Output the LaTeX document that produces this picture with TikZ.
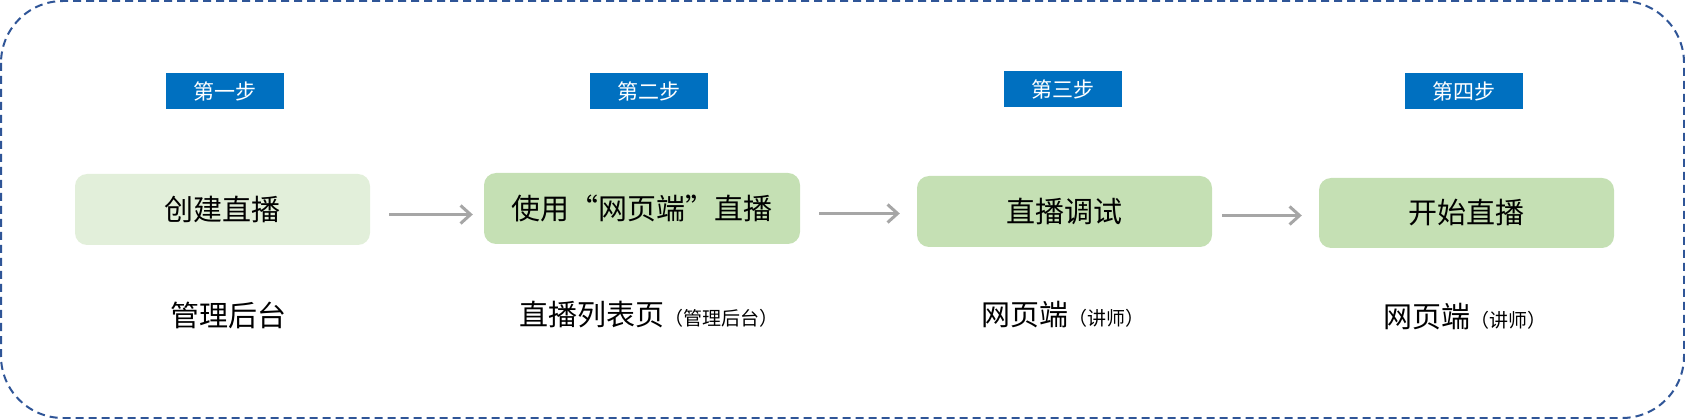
\documentclass[tikz,border=0pt]{standalone}
\usepackage{fontspec}
\newfontfamily\cjk{Noto Sans CJK SC}
\usetikzlibrary{calc,arrows.meta}
\definecolor{stepblue}{HTML}{0070C0}
\definecolor{palegreen}{HTML}{E2EFDA}
\definecolor{midgreen}{HTML}{C5E0B4}
\definecolor{frameblue}{HTML}{2F5597}
\definecolor{arrowgray}{HTML}{A6A6A6}
\newcommand{\aside}[1]{{\fontsize{19}{22}\selectfont #1}}

\begin{document}
\begin{tikzpicture}[x=1pt,y=-1pt,
  stepbox/.style={fill=stepblue,text=white,minimum width=118pt,minimum height=36pt,inner sep=0pt,font=\cjk\fontsize{21}{25}\selectfont},
  actbox/.style={fill=midgreen,rounded corners=12pt,minimum width=295pt,minimum height=71pt,inner sep=0pt,font=\cjk\fontsize{29}{34}\selectfont},
  where/.style={inner sep=0pt,font=\cjk\fontsize{29}{34}\selectfont},
  flow/.style={draw=arrowgray,line width=3pt,-{Straight Barb[length=10pt,width=18pt]}}]

\useasboundingbox (0,0) rectangle (1685,419);
\draw[frameblue,line width=2pt,dash pattern=on 8pt off 5pt,rounded corners=62pt] (1,1) rectangle (1684,418);

% steps
\node[stepbox] (s1) at (225,91) {第一步};
\node[stepbox] (s2) at (649,91) {第二步};
\node[stepbox] (s3) at (1063,89.5) {第三步};
\node[stepbox] (s4) at (1464,91) {第四步};

% actions
\node[actbox,fill=palegreen] (b1) at (222.5,209.5) {创建直播};
\node[actbox,minimum width=316pt] (b2) at (642,208.5) {使用“网页端”直播};
\node[actbox] (b3) at (1064.5,211.5) {直播调试};
\node[actbox,minimum height=70pt] (b4) at (1466.5,213) {开始直播};

\draw[flow,shorten <=19pt,shorten >=11pt] ([yshift=-5pt]b1.east) -- ([yshift=-5pt]b1.east -| b2.west);
\draw[flow,shorten <=19pt,shorten >=17pt] ([yshift=-5pt]b2.east) -- ([yshift=-5pt]b2.east -| b3.west);
\draw[flow,shorten <=10pt,shorten >=17pt] ([yshift=-4pt]b3.east) -- ([yshift=-4pt]b3.east -| b4.west);

% places
\node[where] (p1) at (228,315) {管理后台};
\node[where] (p2) at (649,315) {直播列表页\aside{（管理后台）}};
\node[where] (p3) at (1063,315) {网页端\aside{（讲师）}};
\node[where] (p4) at (1464.5,317) {网页端\aside{（讲师）}};

\end{tikzpicture}
\end{document}
